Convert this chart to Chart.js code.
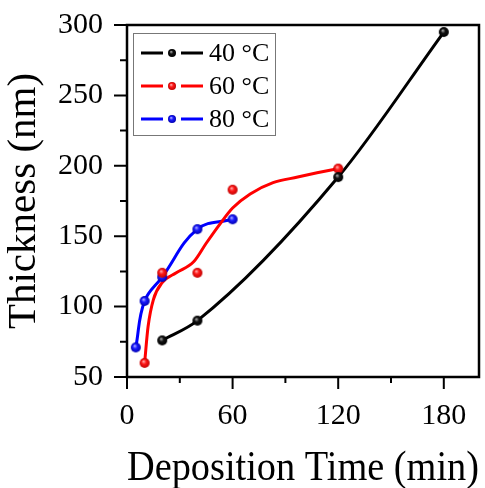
<!DOCTYPE html>
<html>
<head>
<meta charset="utf-8">
<script src="https://cdn.jsdelivr.net/npm/chart.js@4.4.0/dist/chart.umd.min.js"></script>
<style>
  html, body { margin: 0; padding: 0; background: #fff; }
  #wrap { width: 485px; height: 488px; }
</style>
</head>
<body>
<div id="wrap"><canvas id="thickness-chart" width="485" height="488"></canvas></div>
<script>
const time40 = [20, 40, 120, 180];
const thick40 = [76, 90, 192, 295];
const time60 = [10, 20, 40, 60, 120];
const thick60 = [60, 124, 124, 183, 198];
const time80 = [5, 10, 20, 40, 60];
const thick80 = [71, 104, 121, 155, 162];

// The 60 °C line is a smoothed fit, it does not go through the points
const fitTime60 = [10, 12, 15, 20, 28, 38, 45, 53, 60, 70, 83, 97, 108, 120];
const fitThick60 = [60, 86, 105, 117, 124, 132, 145, 159, 170, 180, 188, 192, 195, 198];

const seriesLabels = ['40 \u00B0C', '60 \u00B0C', '80 \u00B0C'];
const seriesColors = ['#000000', '#ff0000', '#0000ff'];

const xTicks = [0, 60, 120, 180];
const xMinor = [30, 90, 150];
const yTicks = [50, 100, 150, 200, 250, 300];
const yMinor = [75, 125, 175, 225, 275];

const FONT = '"Liberation Serif", "Times New Roman", serif';

/**
 * Small shaded sphere used as point marker
 */
function makeBall(color, light, dark, r) {
  const c = document.createElement('canvas');
  const s = 2 * r + 2;
  c.width = s;
  c.height = s;
  const g = c.getContext('2d');
  const cx = s / 2, cy = s / 2;
  const grad = g.createRadialGradient(cx - r * 0.25, cy - r * 0.35, 0, cx, cy, r);
  grad.addColorStop(0, light);
  grad.addColorStop(0.45, color);
  grad.addColorStop(1, dark);
  g.fillStyle = grad;
  g.beginPath();
  g.arc(cx, cy, r, 0, Math.PI * 2);
  g.fill();
  return c;
}

const ballShades = [
  ['#111111', '#bbbbbb', '#000000'],
  ['#ff1a1a', '#ffc0c0', '#c00000'],
  ['#1a1aff', '#c0c0ff', '#0000b0']
];
const balls = ballShades.map(b => makeBall(b[0], b[1], b[2], 5));
const legendBalls = ballShades.map(b => makeBall(b[0], b[1], b[2], 4));

const toXY = (xs, ys) => xs.map((x, i) => ({ x: x, y: ys[i] }));

// Frame, tick marks and legend box drawn on top of the chart area
const framePlugin = {
  id: 'frameTicks',
  afterDatasetsDraw(chart) {
    const { ctx, chartArea: a, scales } = chart;
    ctx.save();
    ctx.strokeStyle = '#000';
    ctx.lineWidth = 2.5;
    ctx.strokeRect(a.left, a.top, a.right - a.left, a.bottom - a.top);

    ctx.lineWidth = 2;
    ctx.beginPath();
    xTicks.forEach(v => {
      const px = scales.x.getPixelForValue(v);
      ctx.moveTo(px, a.bottom);
      ctx.lineTo(px, a.bottom + 12);
    });
    xMinor.forEach(v => {
      const px = scales.x.getPixelForValue(v);
      ctx.moveTo(px, a.bottom);
      ctx.lineTo(px, a.bottom + 6);
    });
    yTicks.forEach(v => {
      const py = scales.y.getPixelForValue(v);
      ctx.moveTo(a.left, py);
      ctx.lineTo(a.left - 13, py);
    });
    yMinor.forEach(v => {
      const py = scales.y.getPixelForValue(v);
      ctx.moveTo(a.left, py);
      ctx.lineTo(a.left - 7, py);
    });
    ctx.stroke();
    ctx.restore();
  },
  afterDraw(chart) {
    const ctx = chart.ctx;
    ctx.save();
    ctx.strokeStyle = '#777';
    ctx.lineWidth = 1;
    ctx.strokeRect(133.5, 33.5, 142, 102);

    const rows = [53, 86, 119];
    ctx.font = '26px ' + FONT;
    ctx.textBaseline = 'middle';
    ctx.textAlign = 'left';
    rows.forEach((y, i) => {
      ctx.strokeStyle = seriesColors[i];
      ctx.lineWidth = 3;
      ctx.beginPath();
      ctx.moveTo(141, y);
      ctx.lineTo(163, y);
      ctx.moveTo(181, y);
      ctx.lineTo(203, y);
      ctx.stroke();
      const b = legendBalls[i];
      ctx.drawImage(b, 172 - b.width / 2, y - b.height / 2);
      ctx.fillStyle = '#000';
      ctx.fillText(seriesLabels[i], 209, y + 1);
    });
    ctx.restore();
  }
};

const ctx = document.getElementById('thickness-chart');

new Chart(ctx, {
  type: 'scatter',
  data: {
    datasets: [
      // markers first so they sit on top of the curves
      { label: seriesLabels[0], data: toXY(time40, thick40), pointStyle: balls[0], order: 0 },
      { label: seriesLabels[1], data: toXY(time60, thick60), pointStyle: balls[1], order: 0 },
      { label: seriesLabels[2], data: toXY(time80, thick80), pointStyle: balls[2], order: 0 },
      {
        label: 'fit 40', data: toXY(time40, thick40), showLine: true, pointRadius: 0,
        borderColor: seriesColors[0], borderWidth: 3, cubicInterpolationMode: 'monotone', order: 1
      },
      {
        label: 'fit 60', data: toXY(fitTime60, fitThick60), showLine: true, pointRadius: 0,
        borderColor: seriesColors[1], borderWidth: 3, cubicInterpolationMode: 'monotone', order: 1
      },
      {
        label: 'fit 80', data: toXY(time80, thick80), showLine: true, pointRadius: 0,
        borderColor: seriesColors[2], borderWidth: 3, tension: 0.4, order: 1
      }
    ]
  },
  options: {
    responsive: false,
    animation: false,
    layout: { padding: { top: 25, right: 6, left: 0, bottom: 0 } },
    plugins: {
      legend: { display: false },
      tooltip: { enabled: false }
    },
    scales: {
      x: {
        type: 'linear',
        min: 0,
        max: 200,
        afterBuildTicks: s => { s.ticks = xTicks.map(v => ({ value: v })); },
        afterFit: s => { s.height = 111; s.paddingLeft = 0; s.paddingRight = 0; },
        grid: { display: false, drawTicks: false },
        border: { display: false },
        ticks: { color: '#000', padding: 21, maxRotation: 0, font: { family: FONT, size: 30 } },
        title: {
          display: true,
          text: 'Deposition Time (min)',
          color: '#000',
          padding: { top: 0, bottom: -6 },
          font: { family: FONT, size: 42 }
        }
      },
      y: {
        type: 'linear',
        min: 50,
        max: 300,
        afterBuildTicks: s => { s.ticks = yTicks.map(v => ({ value: v })); },
        afterFit: s => { s.width = 127; s.paddingTop = 0; s.paddingBottom = 0; },
        grid: { display: false, drawTicks: false },
        border: { display: false },
        ticks: { color: '#000', padding: 24, font: { family: FONT, size: 30 } },
        title: {
          display: true,
          text: 'Thickness (nm)',
          color: '#000',
          padding: { top: 0, bottom: 0 },
          font: { family: FONT, size: 41 }
        }
      }
    }
  },
  plugins: [framePlugin]
});
</script>
</body>
</html>
